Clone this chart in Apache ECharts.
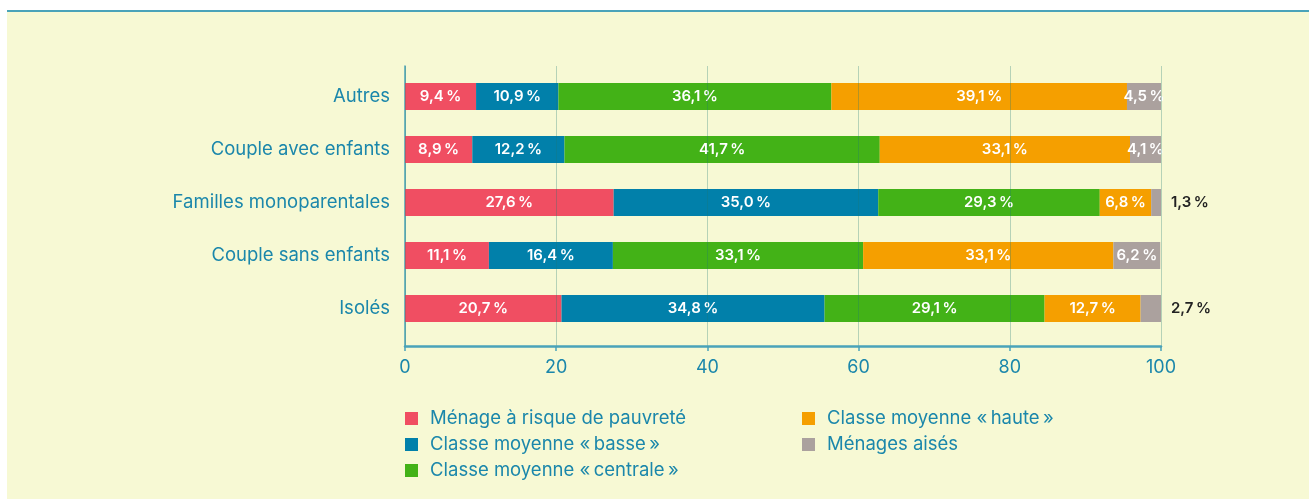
<!DOCTYPE html>
<html lang="fr">
  <head>
    <meta charset="UTF-8">
    <title>Classes de revenus par type de ménage</title>
    <style>
      html, body { margin: 0; padding: 0; background: #fff; }
      .panel {
        position: absolute;
        left: 7px;
        top: 10px;
        width: 1302px;
        height: 489px;
        background: #f7f9d4;
        border-top: 2px solid #4aa3b9;
      }
      .chart {
        position: absolute;
        left: 0;
        top: 0;
        width: 1309px;
        height: 499px;
      }
    </style>
  </head>
  <body>
    <div class="panel"></div>
    <div id="chart" class="chart"></div>

    <script src="https://cdn.jsdelivr.net/npm/echarts@6/dist/echarts.min.js"></script>
    <script type="text/javascript">
      // données (en %)
      var categories = ['Autres', 'Couple avec enfants', 'Familles monoparentales', 'Couple sans enfants', 'Isolés'];
      var seriesNames = [
        'Ménage à risque de pauvreté',
        'Classe moyenne «\u202fbasse\u202f»',
        'Classe moyenne «\u202fcentrale\u202f»',
        'Classe moyenne «\u202fhaute\u202f»',
        'Ménages aisés'
      ];
      var pauvrete = [9.4, 8.9, 27.6, 11.1, 20.7];
      var basse = [10.9, 12.2, 35.0, 16.4, 34.8];
      var centrale = [36.1, 41.7, 29.3, 33.1, 29.1];
      var haute = [39.1, 33.1, 6.8, 33.1, 12.7];
      var aises = [4.5, 4.1, 1.3, 6.2, 2.7];
      var xTicks = [0, 20, 40, 60, 80, 100];

      var colors = ['#f04e62', '#0180aa', '#43b217', '#f59f00', '#aba19e'];
      var teal = '#1b87ab';
      var font = 'Inter';

      function fmt(v) {
        return v.toFixed(1).replace('.', ',') + '\u202f%';
      }

      var allValues = [pauvrete, basse, centrale, haute, aises];

      var series = allValues.map(function(values, i) {
        return {
          name: seriesNames[i],
          type: 'bar',
          stack: 'total',
          xAxisIndex: 0,
          yAxisIndex: 0,
          barWidth: 27,
          itemStyle: { color: colors[i] },
          label: {
            show: true,
            position: 'inside',
            color: '#fff',
            fontFamily: font,
            fontSize: 15,
            fontWeight: 600,
            formatter: function(p) { return fmt(p.value); }
          },
          data: values.map(function(v) {
            // les toutes petites parts ont leur étiquette à droite de la barre
            if (v < 3) {
              return {
                value: v,
                label: { position: 'right', distance: 10, color: '#222' }
              };
            }
            return v;
          })
        };
      });

      var legendText = {
        color: teal,
        fontSize: 18.5,
        fontFamily: font,
        lineHeight: 19,
        padding: [0, 0, 0, 7]
      };

      var myChart = echarts.init(document.getElementById('chart'));

      var option = {
        backgroundColor: 'transparent',
        animation: false,
        textStyle: { fontFamily: font },
        legend: [{
          data: seriesNames.slice(0, 3),
          orient: 'vertical',
          left: 400,
          top: 404,
          itemWidth: 13,
          itemHeight: 13,
          itemGap: 7,
          icon: 'rect',
          selectedMode: false,
          textStyle: legendText
        }, {
          data: seriesNames.slice(3),
          orient: 'vertical',
          left: 797,
          top: 404,
          itemWidth: 13,
          itemHeight: 13,
          itemGap: 7,
          icon: 'rect',
          selectedMode: false,
          textStyle: legendText
        }],
        grid: [{
          // grille des barres
          left: 405,
          right: 148,
          top: 70,
          bottom: 164
        }, {
          // grille des axes visibles
          left: 405,
          right: 148,
          top: 66,
          bottom: 153
        }],
        xAxis: [{
          gridIndex: 0,
          type: 'value',
          min: 0,
          max: 100,
          show: false
        }, {
          gridIndex: 1,
          type: 'value',
          min: xTicks[0],
          max: xTicks[xTicks.length - 1],
          interval: 20,
          z: 10,
          axisLine: { show: true, lineStyle: { color: '#4aa3b9', width: 2.5 } },
          axisTick: { show: true, length: 5, lineStyle: { color: '#4aa3b9', width: 1.5 } },
          axisLabel: { color: teal, fontSize: 18, margin: 13, fontFamily: font },
          splitLine: { show: true, lineStyle: { color: 'rgba(30, 120, 115, 0.3)', width: 1 } }
        }],
        yAxis: [{
          gridIndex: 0,
          type: 'category',
          inverse: true,
          data: categories,
          axisLine: { show: false },
          axisTick: { show: false },
          axisLabel: { color: teal, fontSize: 18.5, margin: 15, fontFamily: font }
        }, {
          gridIndex: 1,
          type: 'value',
          min: 0,
          max: 1,
          axisLine: { show: true, lineStyle: { color: '#4aa3b9', width: 1.5 } },
          axisTick: { show: false },
          axisLabel: { show: false },
          splitLine: { show: false }
        }],
        series: series
      };

      myChart.setOption(option);
    </script>
  </body>
</html>
